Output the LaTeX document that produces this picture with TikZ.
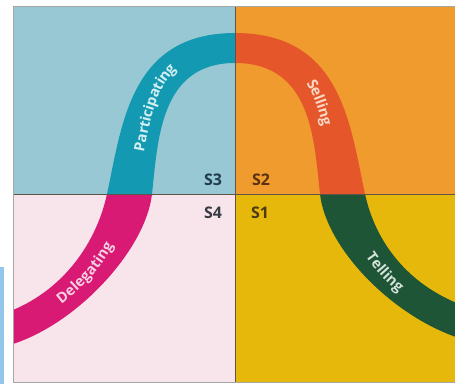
\documentclass[tikz,border=0pt]{standalone}
\usepackage{fontspec}
\setmainfont{Open Sans}
\usetikzlibrary{decorations.text}
\definecolor{tlbg}{HTML}{98C8D3}
\definecolor{trbg}{HTML}{F09B2D}
\definecolor{blbg}{HTML}{F7E5EB}
\definecolor{brbg}{HTML}{E6B80B}
\definecolor{tlband}{HTML}{1399B1}
\definecolor{trband}{HTML}{E5562B}
\definecolor{blband}{HTML}{D81A74}
\definecolor{brband}{HTML}{1F5537}
\definecolor{gridcol}{HTML}{5E5548}
\definecolor{stripcol}{HTML}{92C6EA}
\definecolor{tltext}{HTML}{D2F0F4}
\definecolor{trtext}{HTML}{F9D9C8}
\definecolor{bltext}{HTML}{F7D0E2}
\definecolor{brtext}{HTML}{D5E3DA}
\definecolor{sthree}{HTML}{1F3C50}
\definecolor{stwo}{HTML}{5A3210}
\definecolor{sfour}{HTML}{3A3A45}
\definecolor{sone}{HTML}{4A3A10}
\tikzset{
  slabel/.style={font=\bfseries\fontsize{16}{16}\selectfont, inner sep=0pt},
  bandtext/.style={decorate, decoration={text along path, raise=-5pt, text color=#1}}
}
\begin{document}
\begin{tikzpicture}[x=1pt,y=-1pt]
\useasboundingbox (0,0) rectangle (455,384);
\fill[white] (0,0) rectangle (455,384);
\fill[stripcol] (0,267) rectangle (4,384);
\def\bandshape{(0,315.5) -- (13,310) .. controls (65,288) and (96.5,242) .. (107,194) .. controls (122,125) and (130,33) .. (235,33) .. controls (342,33) and (350,125) .. (365,194) .. controls (375.5,242) and (407,283) .. (459,304) -- (472,309) -- (472,342) -- (459,338) .. controls (392,316) and (326,248) .. (320,194) .. controls (314,140) and (312,63) .. (235,63) .. controls (160,63) and (158,140) .. (152,194) .. controls (146,248) and (80,322) .. (13,344) -- (0,348) -- cycle}
\foreach \xa/\ya/\xb/\yb/\bg/\bd in {13/6/235/194/tlbg/tlband, 235/6/455/194/trbg/trband, 13/194/235/382/blbg/blband, 235/194/455/382/brbg/brband} {
  \begin{scope}
    \clip (\xa,\ya) rectangle (\xb,\yb);
    \fill[\bg] (\xa,\ya) rectangle (\xb,\yb);
    \fill[\bd] \bandshape;
  \end{scope}
}
\path[bandtext=bltext, decoration={text align=center, text={|\bfseries\fontsize{14.5}{14.5}\selectfont|Delegating}}] (13,327) .. controls (73,299) and (109,261) .. (129,194);
\path[bandtext=tltext, decoration={text align={align=center, right indent=22pt}, text={|\bfseries\fontsize{14.5}{14.5}\selectfont|Participating}}] (129,194) .. controls (151,117) and (140,48) .. (235,48);
\path[bandtext=trtext, decoration={text align={align=center, left indent=16pt}, text={|\bfseries\fontsize{14.5}{14.5}\selectfont|Selling}}] (235,48) .. controls (331,48) and (321,117) .. (343,194);
\path[bandtext=brtext, decoration={text align=center, text={|\bfseries\fontsize{14.5}{14.5}\selectfont|Telling}}] (343,194) .. controls (363,261) and (396,294) .. (458,322);
\draw[gridcol, line width=0.9pt] (235,6) -- (235,382);
\draw[gridcol, line width=0.9pt] (13,194) -- (455,194);
\draw[gray!70, line width=0.8pt] (455,6) -- (13,6) -- (13,382) -- (455,382);
\node[slabel, text=sthree] (s3) at (213,180) {S3};
\node[slabel, text=stwo] (s2) at (261,180) {S2};
\node[slabel, text=sfour] (s4) at (213,213) {S4};
\node[slabel, text=sone] (s1) at (260,213) {S1};
\end{tikzpicture}
\end{document}
